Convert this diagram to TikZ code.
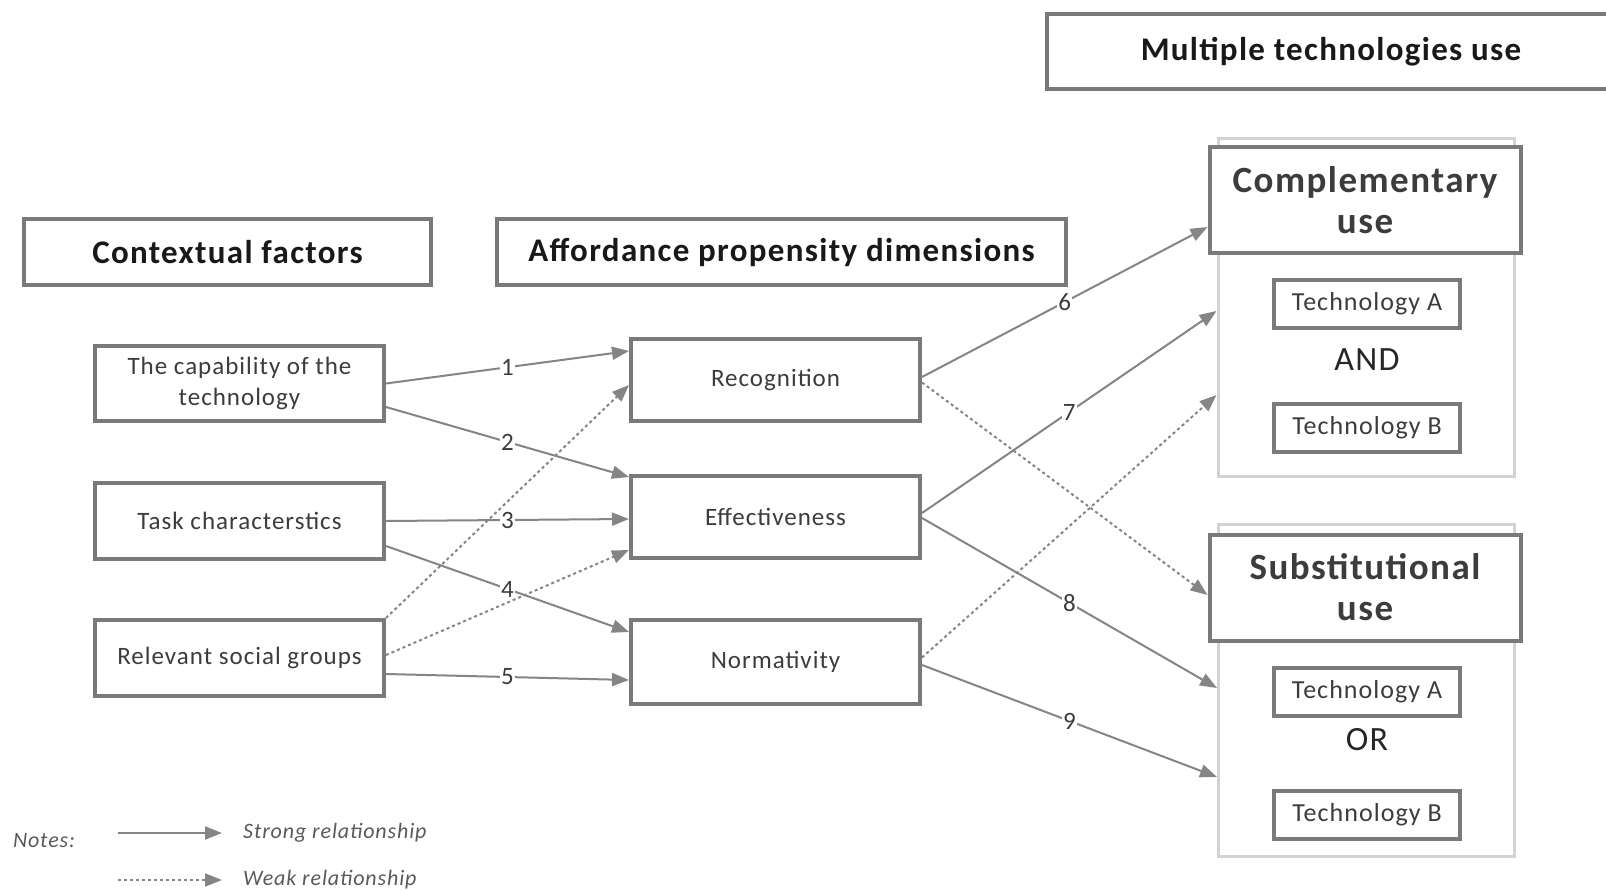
\documentclass[tikz,border=0pt]{standalone}
\usepackage{fontspec}
\setmainfont{Carlito}[LetterSpace=4]
\usetikzlibrary{arrows.meta}
\definecolor{boxgray}{HTML}{7A7A7A}
\definecolor{linegray}{HTML}{858585}
\definecolor{framegray}{HTML}{D3D3D3}
\definecolor{txtgray}{HTML}{3C3C3C}
\definecolor{notegray}{HTML}{5A5A5A}
\begin{document}
\begin{tikzpicture}[x=1pt,y=-1pt,
  box/.style={draw=boxgray, line width=4pt, fill=white, inner sep=0pt, align=center},
  head/.style={box, font=\fontsize{33}{38}\selectfont\bfseries, text=black!90},
  item/.style={box, minimum width=289pt, font=\fontsize{25}{31}\selectfont, text=txtgray},
  tech/.style={box, minimum width=186pt, minimum height=48pt, font=\fontsize{26}{30}\selectfont, text=txtgray},
  usebox/.style={box, minimum width=311pt, minimum height=106pt, font=\fontsize{37}{41}\selectfont\bfseries, text=txtgray},
  frame/.style={draw=framegray, line width=3pt, inner sep=0pt, minimum width=296pt},
  joiner/.style={font=\fontsize{34}{38}\selectfont, text=black!85},
  link/.style={draw=linegray, line width=2pt, -{Triangle[length=17pt,width=13pt]}},
  weak/.style={link, dash pattern=on 3pt off 3pt},
  num/.style={fill=white, inner sep=1pt, font=\fontsize{25}{25}\selectfont, text=txtgray},
  note/.style={inner sep=0pt, font=\fontsize{22}{24}\selectfont\itshape, text=notegray}
]
\fill[white] (0,0) rectangle (1606,891);
\useasboundingbox (0,0) rectangle (1606,891);

% headers
\node[head, minimum width=568pt, minimum height=75pt] (multi) at (1331,51.5) {Multiple technologies use};
\node[head, minimum width=407pt, minimum height=66pt] (ctx) at (227.5,252) {Contextual factors};
\node[head, minimum width=569pt, minimum height=66pt] (aff) at (781.5,252) {Affordance propensity dimensions};

% contextual factors
\node[item, minimum height=75pt] (cap) at (239.5,383.5) {The capability of the\\technology};
\node[item, minimum height=76pt] (task) at (239.5,521) {Task characterstics};
\node[item, minimum height=76pt] (soc) at (239.5,658) {Relevant social groups};

% affordance propensity dimensions
\node[item, minimum height=82pt] (rec) at (775.5,380) {Recognition};
\node[item, minimum height=82pt] (eff) at (775.5,517) {Effectiveness};
\node[item, minimum height=84pt] (nor) at (775.5,662) {Normativity};

% multiple technologies use
\node[frame, minimum height=338pt] (compFrame) at (1366,307) {};
\node[usebox] (compUse) at (1365,200) {Complementary\\use};
\node[tech] (compA) at (1367,304) {Technology A};
\node[joiner] (andw) at (1367,360) {AND};
\node[tech] (compB) at (1367,428) {Technology B};

\node[frame, minimum height=332pt] (subFrame) at (1366.5,690) {};
\node[usebox] (subUse) at (1365,587.5) {Substitutional\\use};
\node[tech] (subA) at (1367,691.5) {Technology A};
\node[joiner] (orw) at (1367,740) {OR};
\node[tech] (subB) at (1367,815) {Technology B};

% contextual factors -> dimensions
\draw[link] (cap.east) -- node[num]{1} ([yshift=29pt]rec.west);
\draw[weak] (soc.north east) -- ([yshift=-5pt]rec.west);
\draw[weak] ([yshift=3pt]soc.east) -- ([yshift=-33pt]eff.west);
\draw[link] ([yshift=-23.5pt]cap.east) -- node[num]{2} ([yshift=40pt]eff.west);
\draw[link] (task.east) -- node[num]{3} ([yshift=-2pt]eff.west);
\draw[link] ([yshift=-25pt]task.east) -- node[num]{4} ([yshift=30pt]nor.west);
\draw[link] ([yshift=-16pt]soc.east) -- node[num]{5} ([yshift=-18pt]nor.west);

% dimensions -> use
\draw[weak] ([yshift=-2.5pt]rec.east) -- ([yshift=-7.5pt]subUse.west);
\draw[weak] ([yshift=4.5pt]nor.east) -- ([yshift=-88pt]compFrame.west);
\draw[link] ([yshift=3pt]rec.east) -- node[num]{6} ([yshift=-27pt]compUse.west);
\draw[link] ([yshift=4pt]eff.east) -- node[num]{7} ([yshift=-4pt]compFrame.west);
\draw[link] ([yshift=-1pt]eff.east) -- node[num]{8} ([yshift=2pt]subFrame.west);
\draw[link] ([yshift=-3pt]nor.east) -- node[num]{9} ([yshift=-87pt]subFrame.west);

% legend
\node[note] (notes) at (44,841) {Notes:};
\coordinate (s1) at (118,833);
\coordinate (s2) at (222,833);
\draw[link] (s1) -- (s2);
\node[note, anchor=west] (strong) at (243,833) {Strong relationship};
\coordinate (w1) at (118,880);
\coordinate (w2) at (222,880);
\draw[weak] (w1) -- (w2);
\node[note, anchor=west] (weakt) at (243,880) {Weak relationship};
\end{tikzpicture}
\end{document}
